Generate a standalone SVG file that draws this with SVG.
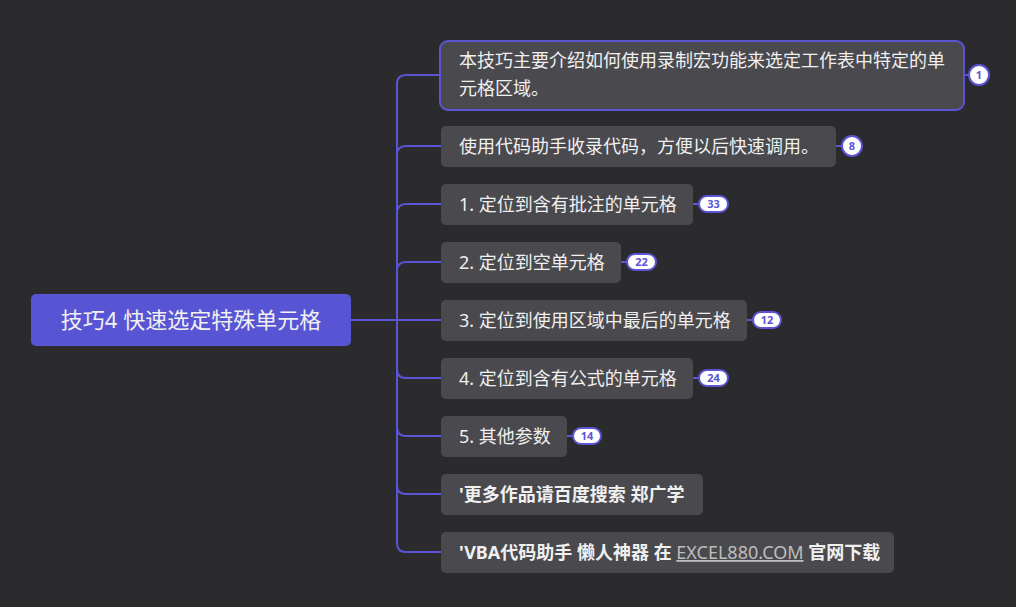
<svg xmlns="http://www.w3.org/2000/svg" width="1016" height="607" viewBox="0 0 1016 607">
<style>
.bg{fill:#2b2a2d}
.node{fill:#4a494e}
.t{font-family:"Noto Sans","Noto Sans CJK SC",sans-serif;font-size:18px;fill:#f0f0f0}
.b{font-weight:bold}
.link{fill:#bdbdbd;font-weight:normal;text-decoration:underline}
.conn{fill:none;stroke:#5b55d6;stroke-width:2}
.badge{fill:#ffffff;stroke:#5b55d6;stroke-width:2}
.bt{font-family:"Noto Sans",sans-serif;font-size:11px;font-weight:bold;fill:#5b55d6;text-anchor:middle}
</style>
<rect class="bg" x="0" y="0" width="1016" height="607"/>
<g id="connectors">
<path class="conn" d="M351 320 H441"/>
<path class="conn" d="M440 75 H406 Q397 75 397 84 V543 Q397 552 406 552 H441"/>
<path class="conn" d="M441 146 H406 Q397 146 397 155"/>
<path class="conn" d="M441 204 H406 Q397 204 397 213"/>
<path class="conn" d="M441 262 H406 Q397 262 397 271"/>
<path class="conn" d="M441 378 H406 Q397 378 397 369"/>
<path class="conn" d="M441 436 H406 Q397 436 397 427"/>
<path class="conn" d="M441 494 H406 Q397 494 397 485"/>
<path class="conn" d="M964 75 H970"/>
<path class="conn" d="M836 146 H842"/>
<path class="conn" d="M693 204 H699"/>
<path class="conn" d="M621 262 H627"/>
<path class="conn" d="M747 320 H753"/>
<path class="conn" d="M693 378 H699"/>
<path class="conn" d="M567 436 H573"/>
</g>
<g id="root">
<rect x="31" y="294" width="320" height="52" rx="5" fill="#5855d4"/>
<text class="t" x="191" y="328" text-anchor="middle" style="font-size:22px">技巧4 快速选定特殊单元格</text>
</g>
<g id="n1">
<rect class="node" x="440" y="41" width="524" height="69" rx="8" stroke="#5b55d6" stroke-width="2"/>
<text class="t" x="459" y="67">本技巧主要介绍如何使用录制宏功能来选定工作表中特定的单</text>
<text class="t" x="459" y="95">元格区域。</text>
<circle class="badge" cx="979" cy="75" r="10"/>
<text class="bt" x="979" y="79">1</text>
</g>
<g id="n2">
<rect class="node" x="441" y="126" width="395" height="41" rx="5"/>
<text class="t" x="459" y="153">使用代码助手收录代码，方便以后快速调用。</text>
<circle class="badge" cx="852" cy="146" r="10"/>
<text class="bt" x="852" y="150">8</text>
</g>
<g id="n3">
<rect class="node" x="441" y="184" width="252" height="41" rx="5"/>
<text class="t" x="459" y="211">1. 定位到含有批注的单元格</text>
<rect class="badge" x="699" y="196" width="29" height="16" rx="8"/>
<text class="bt" x="713.5" y="208">33</text>
</g>
<g id="n4">
<rect class="node" x="441" y="242" width="180" height="41" rx="5"/>
<text class="t" x="459" y="269">2. 定位到空单元格</text>
<rect class="badge" x="627" y="254" width="29" height="16" rx="8"/>
<text class="bt" x="641.5" y="266">22</text>
</g>
<g id="n5">
<rect class="node" x="441" y="300" width="306" height="41" rx="5"/>
<text class="t" x="459" y="327">3. 定位到使用区域中最后的单元格</text>
<rect class="badge" x="753" y="312" width="28" height="16" rx="8"/>
<text class="bt" x="767" y="324">12</text>
</g>
<g id="n6">
<rect class="node" x="441" y="358" width="252" height="41" rx="5"/>
<text class="t" x="459" y="385">4. 定位到含有公式的单元格</text>
<rect class="badge" x="699" y="370" width="29" height="16" rx="8"/>
<text class="bt" x="713.5" y="382">24</text>
</g>
<g id="n7">
<rect class="node" x="441" y="416" width="126" height="41" rx="5"/>
<text class="t" x="459" y="443">5. 其他参数</text>
<rect class="badge" x="573" y="428" width="28" height="16" rx="8"/>
<text class="bt" x="587" y="440">14</text>
</g>
<g id="n8">
<rect class="node" x="441" y="474" width="262" height="41" rx="5"/>
<text class="t b" x="459" y="501">'更多作品请百度搜索 郑广学</text>
</g>
<g id="n9">
<rect class="node" x="441" y="532" width="453" height="41" rx="5"/>
<text class="t b" x="459" y="559">'VBA代码助手 懒人神器 在 <tspan class="link">EXCEL880.COM</tspan> 官网下载</text>
</g>
</svg>
